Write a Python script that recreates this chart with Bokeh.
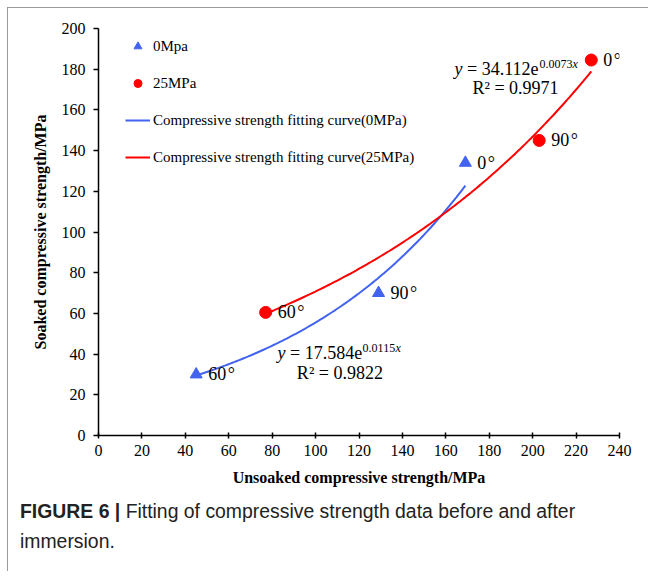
import numpy as np
from bokeh.plotting import figure
from bokeh.models import (Legend, LegendItem, Label, LabelSet, Div, FixedTicker,
                          ColumnDataSource)
from bokeh.layouts import column
from bokeh.embed import file_html
from bokeh.resources import INLINE

# ---------------- data ----------------
x_ticks = list(range(0, 241, 20))
y_ticks = list(range(0, 201, 20))

mpa0_x = [45, 129, 169]
mpa0_y = [30, 70, 134]
mpa0_labels = ["60\u200a°", "90\u200a°", "0\u200a°"]

mpa25_x = [77, 203, 227]
mpa25_y = [60.5, 145, 184.5]
mpa25_labels = ["60\u200a°", "90\u200a°", "0\u200a°"]

# fitted curves y = a * exp(b x), as stated on the chart
fit0_a, fit0_b, fit0_r2 = 17.584, 0.0115, 0.9822
fit25_a, fit25_b, fit25_r2 = 34.112, 0.0073, 0.9971

legend_labels = ["0Mpa", "25MPa",
                 "Compressive strength fitting curve(0MPa)",
                 "Compressive strength fitting curve(25MPa)"]

BLUE = "#4263F0"
RED = "#FF0000"
SERIF = "Liberation Serif"

p = figure(width=640, height=483, x_range=(0, 240), y_range=(0, 200),
           output_backend="svg", toolbar_location=None,
           min_border_left=90, min_border_right=29,
           min_border_top=20, min_border_bottom=56)
p.xgrid.visible = False
p.ygrid.visible = False
p.outline_line_color = None
p.background_fill_color = "white"
p.border_fill_color = "white"

p.xaxis.ticker = FixedTicker(ticks=x_ticks)
p.yaxis.ticker = FixedTicker(ticks=y_ticks)
for ax in (p.xaxis, p.yaxis):
    ax.axis_line_color = "black"
    ax.axis_line_width = 1.5
    ax.major_tick_line_color = "black"
    ax.major_tick_line_width = 1.5
    ax.minor_tick_line_color = None
    ax.major_label_text_font = SERIF
    ax.major_label_text_font_size = "16px"
    ax.major_label_text_color = "black"
    ax.axis_label_text_font = SERIF
    ax.axis_label_text_font_size = "16px"
    ax.axis_label_text_font_style = "bold"
    ax.axis_label_text_color = "black"

p.xaxis.axis_label = "Unsoaked compressive strength/MPa"
p.yaxis.axis_label = "Soaked compressive strength/MPa"
p.xaxis.major_tick_in = 3
p.xaxis.major_tick_out = 3
p.xaxis.major_label_standoff = 6
p.xaxis.axis_label_standoff = 10
p.yaxis.major_tick_in = 0
p.yaxis.major_tick_out = 5
p.yaxis.major_label_standoff = 8
p.yaxis.axis_label_standoff = 10

# fitted curves
cx0 = np.linspace(min(mpa0_x), max(mpa0_x), 120)
cy0 = fit0_a * np.exp(fit0_b * cx0)
cx25 = np.linspace(min(mpa25_x), max(mpa25_x), 120)
cy25 = fit25_a * np.exp(fit25_b * cx25)

r_l0 = p.line(cx0, cy0, line_color=BLUE, line_width=2)
r_l25 = p.line(cx25, cy25, line_color=RED, line_width=2)

src0 = ColumnDataSource(dict(x=mpa0_x, y=mpa0_y, t=mpa0_labels))
src25 = ColumnDataSource(dict(x=mpa25_x, y=mpa25_y, t=mpa25_labels))
r_tri = p.scatter("x", "y", source=src0, marker="triangle", size=12,
                  fill_color=BLUE, line_color=BLUE)
r_cir = p.scatter("x", "y", source=src25, marker="circle", size=12,
                  fill_color=RED, line_color=RED)

for s in (src0, src25):
    p.add_layout(LabelSet(x="x", y="y", text="t", source=s, x_offset=12,
                          text_baseline="middle", text_font=SERIF,
                          text_font_size="18px", text_color="black"))

# equations
def equation(x, y, a, b, r2x, r2y, r2):
    kw = dict(x_units="data", y_units="data", text_font=SERIF,
              text_color="black", text_baseline="middle")
    p.add_layout(Label(x=x, y=y, text="y", text_font_size="18px",
                       text_font_style="italic", **kw))
    p.add_layout(Label(x=x, y=y, x_offset=12.5, text=f"= {a:.3f}e",
                       text_font_size="18px", **kw))
    p.add_layout(Label(x=x, y=y, x_offset=85, y_offset=5, text=f"{b:.4f}",
                       text_font_size="12px", **kw))
    p.add_layout(Label(x=x, y=y, x_offset=118, y_offset=5, text="x",
                       text_font_size="12px", text_font_style="italic", **kw))
    p.add_layout(Label(x=r2x, y=r2y, text=f"R² = {r2:.4f}", text_align="center",
                       text_font_size="18px", **kw))

equation(164.0, 180.3, fit25_a, fit25_b, 192.1, 171.0, fit25_r2)
equation(82.5, 40.3, fit0_a, fit0_b, 111.2, 30.6, fit0_r2)

legend = Legend(items=[LegendItem(label=legend_labels[0], renderers=[r_tri]),
                       LegendItem(label=legend_labels[1], renderers=[r_cir]),
                       LegendItem(label=legend_labels[2], renderers=[r_l0]),
                       LegendItem(label=legend_labels[3], renderers=[r_l25])],
                location=(27, 268), padding=0, margin=0, spacing=17,
                glyph_width=25, glyph_height=20, label_standoff=3,
                border_line_color=None, background_fill_alpha=0,
                label_text_font=SERIF, label_text_font_size="15px",
                label_text_color="black")
p.add_layout(legend)

caption = Div(
    text=('<div style="padding-left:7px">'
          '<b>FIGURE 6 |</b> Fitting of compressive strength data before and after'
          '<br>immersion.</div>'),
    width=630, height=70,
    styles={"font-family": "'Liberation Sans', Arial, sans-serif",
            "font-size": "19.4px", "line-height": "30px", "color": "#222222"})

layout = column(p, caption, margin=(7, 0, 0, 7),
                styles={"border-left": "1px solid #9a9a9a",
                        "border-top": "1px solid #9a9a9a"})

open("out.html", "w").write(file_html(layout, INLINE))
